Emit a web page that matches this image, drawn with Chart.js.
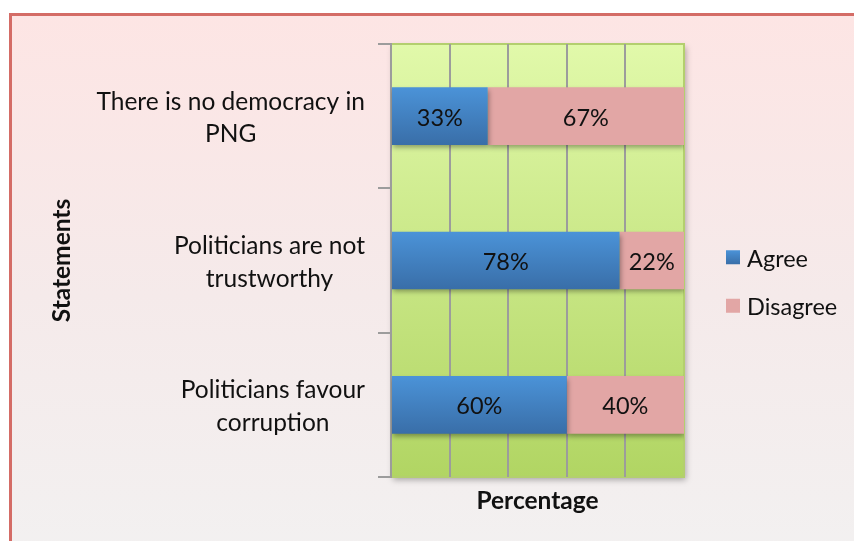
<!DOCTYPE html>
<html>
<head>
<meta charset="utf-8">
<script src="https://cdn.jsdelivr.net/npm/chart.js@4/dist/chart.umd.min.js"></script>
<style>
    html, body { margin: 0; padding: 0; background: #fff; overflow: hidden; }
    #frame {
        position: absolute; left: 9px; top: 13px; width: 900px; height: 560px;
        border-left: 3px solid #d46c66; border-top: 3px solid #d46c66;
        background: linear-gradient(#fde5e4, #f5eaea 50%, #f2f1f1);
    }
    #wrap { position: absolute; left: 12px; top: 16px; width: 842px; height: 525px; }
</style>
</head>
<body>
<div id="frame"></div>
<div id="wrap"><canvas id="chart"></canvas></div>
<script>
// 類別與數值
const categories = [
    ['There is no democracy in', 'PNG'],
    ['Politicians are not', 'trustworthy'],
    ['Politicians favour', 'corruption']
];
const seriesNames = ['Agree', 'Disagree'];
const agreeValues = [33, 78, 60];
const disagreeValues = [67, 22, 40];
const xTicks = [0, 20, 40, 60, 80, 100];

const FONT = 'Lato, "DejaVu Sans", sans-serif';
Chart.defaults.font.family = FONT;
Chart.defaults.color = '#111';

// 藍色長條的漸層
const blueFill = (chart, y0, y1) => {
    let g = chart.ctx.createLinearGradient(0, y0, 0, y1);
    g.addColorStop(0, '#4b93d8');
    g.addColorStop(1, '#396ea8');
    return g;
}

const agreeColor = (c) => {
    let chart = c.chart;
    let area = chart.chartArea;
    if (!area || c.dataIndex === undefined) {
        return '#4a88c8';
    }
    let y = chart.scales.y.getPixelForValue(c.dataIndex);
    let half = (area.bottom - area.top) / categories.length * 0.4 / 2;
    return blueFill(chart, y - half, y + half);
}

// 繪圖區背景、陰影與外框
const plotBg = {
    id: 'plotBg',
    beforeDraw(chart) {
        let { ctx, chartArea: a } = chart;
        ctx.save();
        let g = ctx.createLinearGradient(0, a.top, 0, a.bottom);
        g.addColorStop(0, '#e1f9aa');
        g.addColorStop(1, '#b1d563');
        ctx.shadowColor = 'rgba(0,0,0,0.3)';
        ctx.shadowBlur = 6;
        ctx.shadowOffsetX = 2;
        ctx.shadowOffsetY = 3;
        ctx.fillStyle = g;
        ctx.fillRect(a.left, a.top, a.right - a.left, a.bottom - a.top);
        ctx.restore();
        ctx.save();
        ctx.strokeStyle = '#b3cf6e';
        ctx.lineWidth = 2;
        ctx.strokeRect(a.left, a.top, a.right - a.left, a.bottom - a.top);
        ctx.restore();
    }
}

// 長條陰影
const barShadow = {
    id: 'barShadow',
    beforeDatasetsDraw(chart) {
        let ctx = chart.ctx;
        ctx.save();
        ctx.shadowColor = 'rgba(0,0,0,0.35)';
        ctx.shadowBlur = 5;
        ctx.shadowOffsetX = 1;
        ctx.shadowOffsetY = 3;
    },
    afterDatasetsDraw(chart) {
        chart.ctx.restore();
    }
}

// 長條內的百分比文字
const valueLabels = {
    id: 'valueLabels',
    afterDatasetsDraw(chart) {
        let ctx = chart.ctx;
        ctx.save();
        ctx.font = '23.5px ' + FONT;
        ctx.fillStyle = '#111';
        ctx.textAlign = 'center';
        ctx.textBaseline = 'middle';
        chart.data.datasets.forEach((ds, di) => {
            chart.getDatasetMeta(di).data.forEach((bar, i) => {
                let x = (bar.x + bar.base) / 2;
                ctx.fillText(ds.data[i] + '%', x, bar.y + 2);
            });
        });
        ctx.restore();
    }
}

// Y 軸類別文字：每組置中，整組靠右
const categoryLabels = {
    id: 'categoryLabels',
    afterDraw(chart) {
        let ctx = chart.ctx;
        let yScale = chart.scales.y;
        let right = yScale.right - 26;
        let lineH = 32.5;
        ctx.save();
        ctx.font = '24.5px ' + FONT;
        ctx.fillStyle = '#111';
        ctx.textAlign = 'center';
        ctx.textBaseline = 'middle';
        categories.forEach((lines, i) => {
            let widest = Math.max(...lines.map(t => ctx.measureText(t).width));
            let cx = right - widest / 2;
            let cy = yScale.getPixelForValue(i) + 2;
            lines.forEach((t, k) => {
                ctx.fillText(t, cx, cy + (k - (lines.length - 1) / 2) * lineH);
            });
        });
        ctx.restore();
    }
}

// 圖例
const sideLegend = {
    id: 'sideLegend',
    afterDraw(chart) {
        let ctx = chart.ctx;
        let a = chart.chartArea;
        let x = a.right + 42;
        let y0 = (a.top + a.bottom) / 2 + 21;
        let gap = 48.5;
        ctx.save();
        ctx.font = '23.5px ' + FONT;
        ctx.textBaseline = 'middle';
        ctx.textAlign = 'left';
        chart.data.datasets.forEach((ds, i) => {
            let y = y0 + (i - 0.5) * gap;
            ctx.fillStyle = i === 0 ? blueFill(chart, y - 7, y + 7) : ds.backgroundColor;
            ctx.fillRect(x, y - 7, 14, 14);
            ctx.fillStyle = '#111';
            ctx.fillText(ds.label, x + 21, y + 2);
        });
        ctx.restore();
    }
}

let el = document.querySelector('#chart');
new Chart(el, {
    type: 'bar',
    data: {
        labels: categories,
        datasets: [
            {
                label: seriesNames[0],
                data: agreeValues,
                backgroundColor: agreeColor
            },
            {
                label: seriesNames[1],
                data: disagreeValues,
                backgroundColor: '#e2a6a5'
            }
        ]
    },
    options: {
        indexAxis: 'y',
        responsive: true,
        maintainAspectRatio: false,
        animation: false,
        categoryPercentage: 0.8,
        barPercentage: 0.5,
        layout: { padding: { top: 28, right: 170, left: 0, bottom: 0 } },
        plugins: {
            legend: { display: false },
            tooltip: { enabled: false }
        },
        scales: {
            x: {
                stacked: true,
                min: xTicks[0],
                max: xTicks[xTicks.length - 1],
                ticks: { display: false, stepSize: xTicks[1] - xTicks[0] },
                grid: {
                    drawTicks: false,
                    lineWidth: 2,
                    color: (c) => (c.index === 0 || c.index === xTicks.length - 1) ? 'rgba(0,0,0,0)' : '#9c9c9c'
                },
                border: { display: false },
                title: {
                    display: true,
                    text: 'Percentage',
                    font: { size: 24.5, weight: 'bold' },
                    color: '#111',
                    padding: { top: 0, bottom: 25 }
                },
                afterFit: (scale) => { scale.height = 64; }
            },
            y: {
                stacked: true,
                ticks: { display: false },
                grid: {
                    drawOnChartArea: false,
                    drawTicks: true,
                    tickLength: 13,
                    lineWidth: 2,
                    color: '#9c9c9c'
                },
                border: { display: true, color: '#9c9c9c', width: 2 },
                title: {
                    display: true,
                    text: 'Statements',
                    font: { size: 24.5, weight: 'bold' },
                    color: '#111',
                    padding: { top: 35, bottom: 0 }
                },
                afterFit: (scale) => { scale.width = 379; }
            }
        }
    },
    plugins: [plotBg, barShadow, valueLabels, categoryLabels, sideLegend]
});
</script>
</body>
</html>
